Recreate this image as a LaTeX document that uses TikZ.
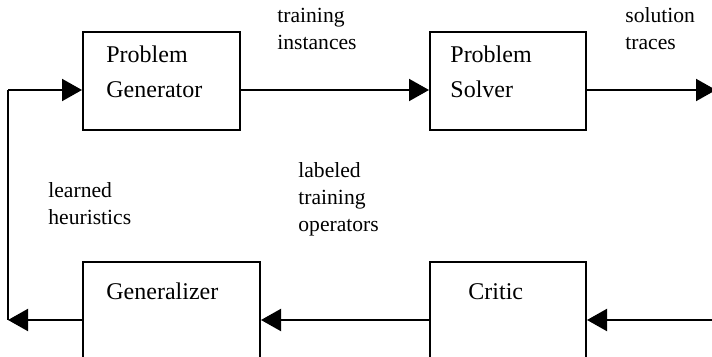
\documentclass[tikz,border=0pt]{standalone}
\usepackage{fontspec}
\setmainfont{Liberation Serif}
\usetikzlibrary{arrows.meta,positioning}

\begin{document}
\begin{tikzpicture}[x=0.5pt, y=-0.5pt,
  blk/.style  = {draw, line width=1pt, minimum height=49pt, inner sep=0pt},
  txt/.style  = {anchor=base west, inner sep=0pt, align=left,
                 font=\fontsize{12}{17.5}\selectfont},
  lbl/.style  = {txt, font=\fontsize{10.8}{13.6}\selectfont},
  arr/.style  = {-{Triangle[length=10pt, width=11pt]}, line width=1pt},
  wire/.style = {line width=1pt},
]
\useasboundingbox (0,0) rectangle (712,357);

%% -- boxes ----------------------------------------------------------------
\node[blk, minimum width=78.5pt] (gen)  at (161.5, 81) {};
\node[blk, minimum width=78pt]   (solv) at (508,   81) {};
\node[blk, minimum width=88.5pt] (gnz)  at (171.5,311) {};
\node[blk, minimum width=78pt]   (crit) at (508,  311) {};

%% text sits on the last line's baseline
\node[txt] (genT)  at (106, 98) {Problem\\Generator};
\node[txt] (solvT) at (450, 98) {Problem\\Solver};
\node[txt] (gnzT)  at (106,300) {Generalizer};
\node[txt] (critT) at (468,300) {Critic};

%% -- flow labels ----------------------------------------------------------
\node[lbl] (instL) at (277, 50) {training\\instances};
\node[lbl] (trcL)  at (625, 50) {solution\\traces};
\node[lbl] (heurL) at (48, 225) {learned\\heuristics};
\node[lbl] (opsL)  at (298,232) {labeled\\training\\operators};

%% -- connectors -----------------------------------------------------------
\coordinate (toprow) at (0, 90);
\coordinate (botrow) at (0,320);
\coordinate (outT)  at (716, 90);
\coordinate (inB)   at (712,320);
\coordinate (loopB) at (8,320);
\coordinate (loopT) at (8, 90);

\draw[arr] (gen.east |- toprow) -- (solv.west |- toprow);
\draw[arr] (solv.east |- toprow) -- (outT);
\draw[arr] (inB) -- (crit.east |- botrow);
\draw[arr] (crit.west |- botrow) -- (gnz.east |- botrow);
\draw[arr] (gnz.west |- botrow) -- (loopB);
\draw[wire] (loopB) -- (loopT);
\draw[arr] (loopT) -- (gen.west |- toprow);

\end{tikzpicture}
\end{document}
